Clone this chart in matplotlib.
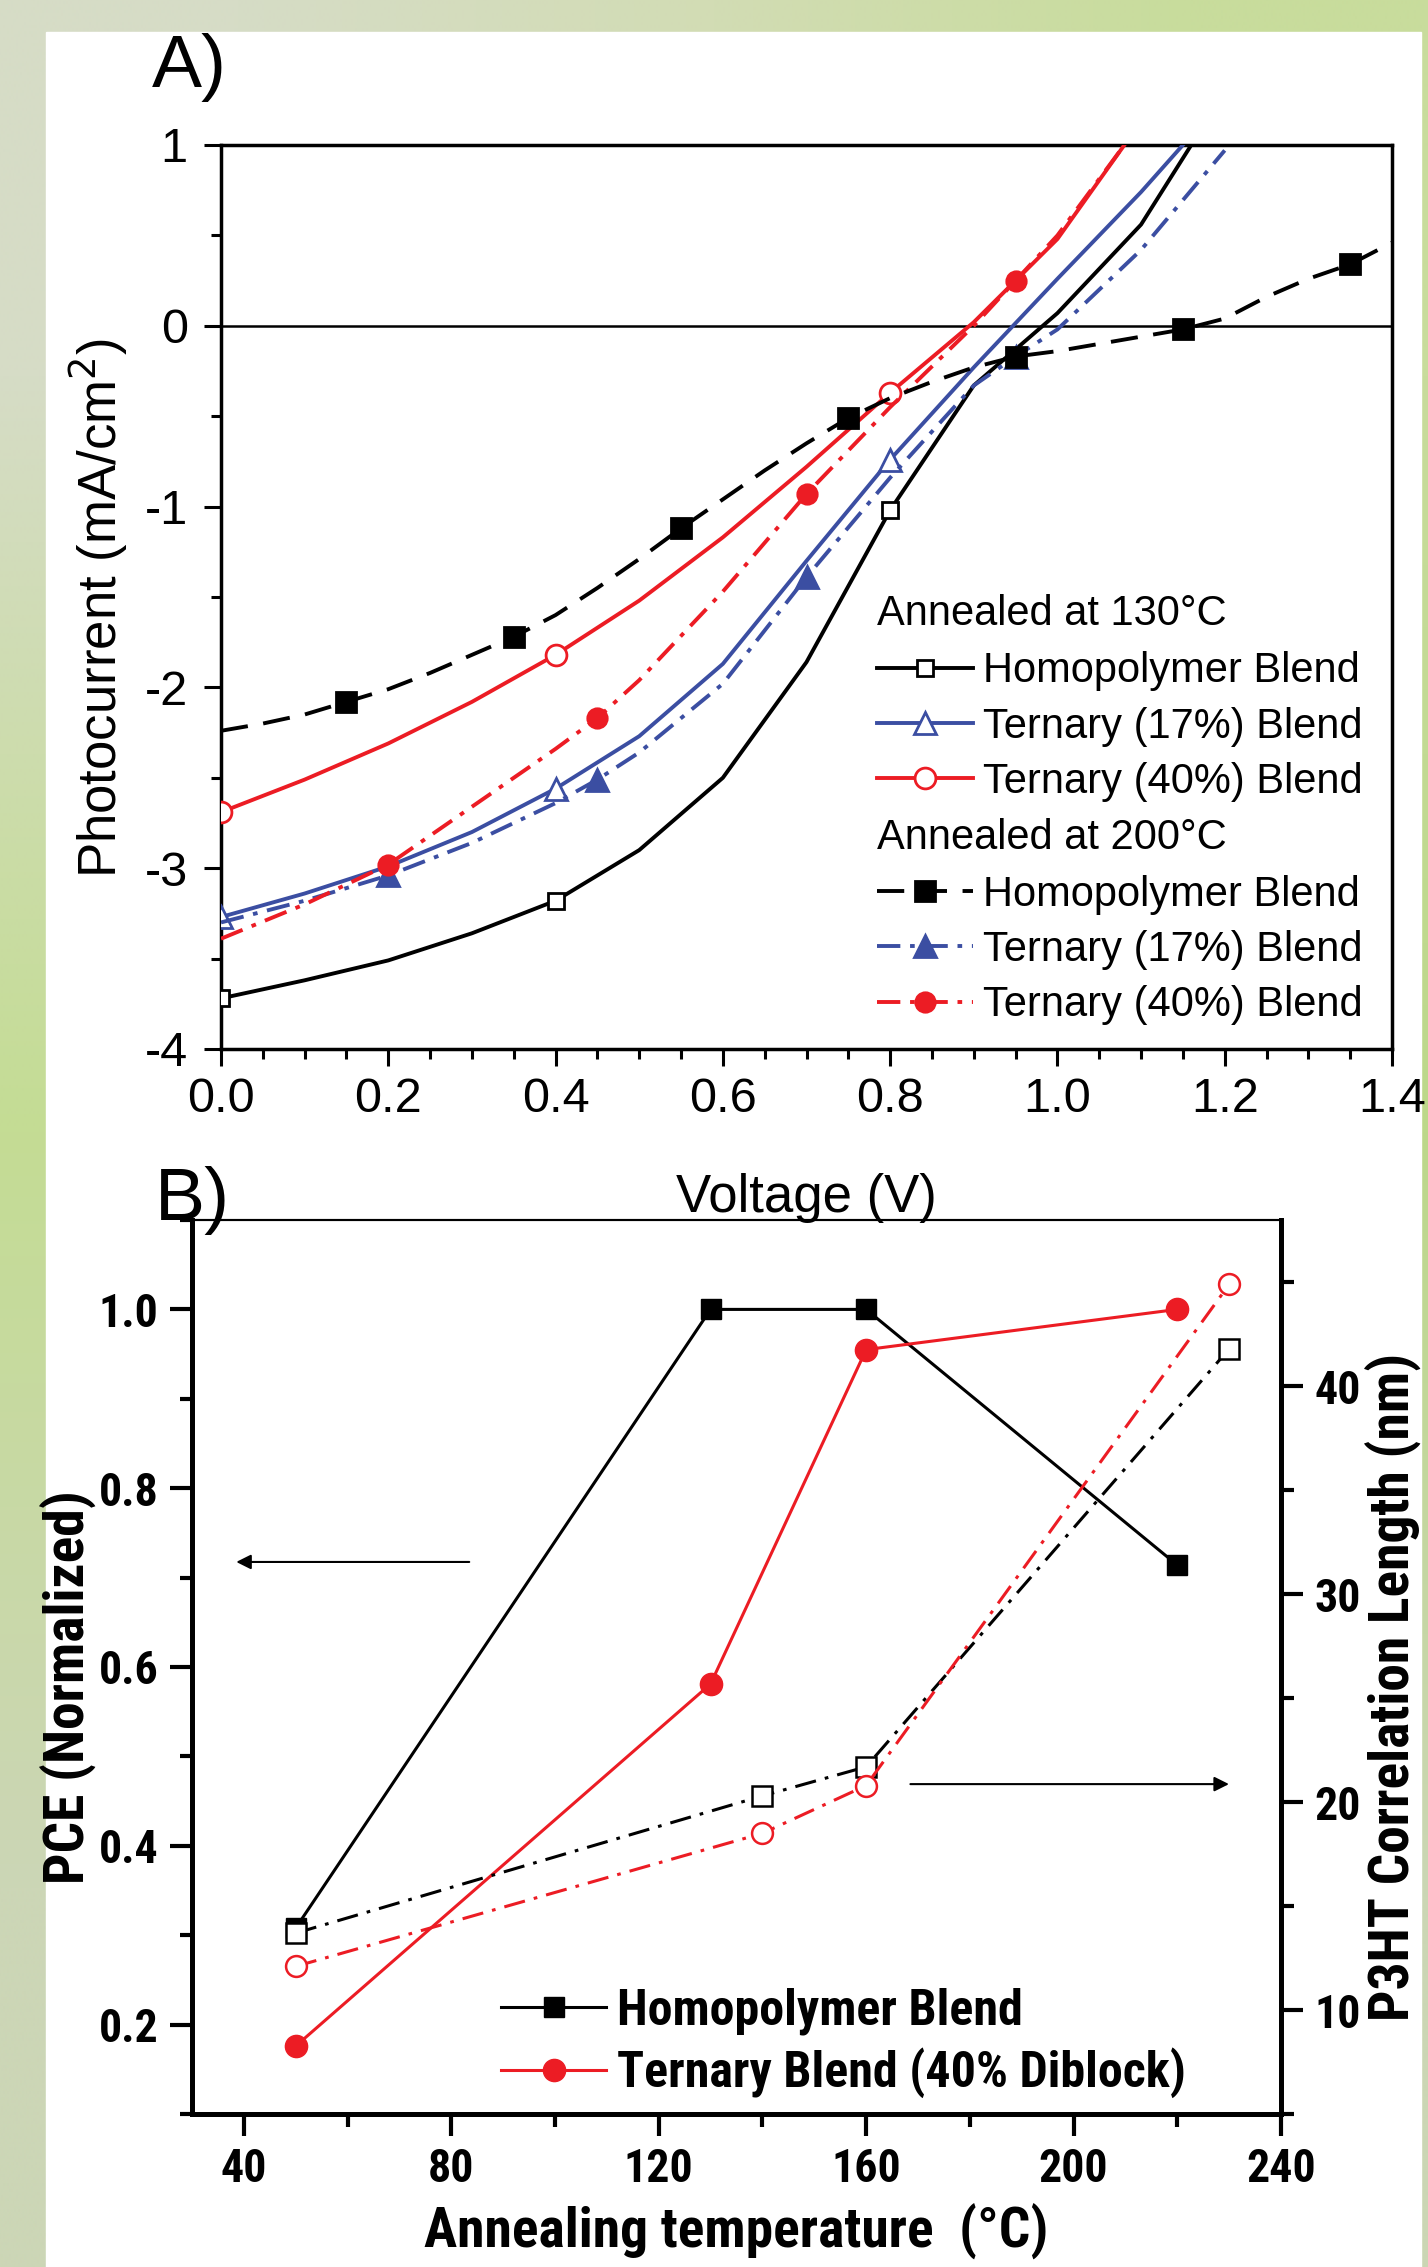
import numpy as np
import matplotlib.pyplot as plt
from matplotlib import font_manager as fm
from matplotlib.lines import Line2D
from matplotlib.patches import Rectangle
from matplotlib.ticker import MultipleLocator, FormatStrFormatter
from matplotlib.colors import to_rgb

# ---------------- Panel A: photocurrent vs voltage ----------------
# annealed at 130 C (solid lines, open markers)
v_homo130 = [0, 0.1, 0.2, 0.3, 0.4, 0.5, 0.6, 0.7, 0.8, 0.9, 1.0, 1.1, 1.16]
i_homo130 = [-3.72, -3.62, -3.51, -3.36, -3.18, -2.90, -2.50, -1.86, -1.02, -0.33, 0.07, 0.56, 1.0]
v_t17_130 = [0, 0.1, 0.2, 0.3, 0.4, 0.5, 0.6, 0.7, 0.8, 0.9, 1.0, 1.1, 1.15]
i_t17_130 = [-3.27, -3.14, -2.99, -2.80, -2.56, -2.27, -1.87, -1.30, -0.74, -0.23, 0.26, 0.74, 1.0]
v_t40_130 = [0, 0.1, 0.2, 0.3, 0.4, 0.5, 0.6, 0.7, 0.8, 0.9, 1.0, 1.08]
i_t40_130 = [-2.69, -2.51, -2.31, -2.08, -1.82, -1.52, -1.17, -0.78, -0.37, 0.02, 0.48, 1.0]

# annealed at 200 C (dashed / dash-dot lines, filled markers)
v_homo200 = [0, 0.05, 0.1, 0.15, 0.2, 0.25, 0.3, 0.35, 0.4, 0.45, 0.5, 0.55, 0.6, 0.65, 0.7,
             0.75, 0.8, 0.85, 0.9, 0.95, 1.0, 1.05, 1.1, 1.15, 1.2, 1.25, 1.3, 1.35, 1.4]
i_homo200 = [-2.24, -2.20, -2.15, -2.08, -2.01, -1.92, -1.82, -1.72, -1.60, -1.45, -1.29, -1.12,
             -0.96, -0.80, -0.65, -0.51, -0.40, -0.31, -0.23, -0.17, -0.14, -0.10, -0.06, -0.02,
             0.04, 0.16, 0.26, 0.34, 0.46]
v_t17_200 = [0, 0.1, 0.2, 0.3, 0.4, 0.45, 0.5, 0.6, 0.7, 0.8, 0.9, 0.95, 1.0, 1.1, 1.2]
i_t17_200 = [-3.30, -3.18, -3.04, -2.86, -2.64, -2.51, -2.36, -1.98, -1.39, -0.84, -0.33, -0.17,
             -0.02, 0.42, 0.97]
v_t40_200 = [0, 0.1, 0.2, 0.3, 0.4, 0.45, 0.5, 0.6, 0.7, 0.8, 0.9, 0.95, 1.0, 1.08]
i_t40_200 = [-3.39, -3.20, -2.98, -2.66, -2.34, -2.17, -1.96, -1.47, -0.93, -0.45, 0.0, 0.25,
             0.50, 1.0]

# ---------------- Panel B: PCE and correlation length ----------------
temp_pce = [50, 130, 160, 220]
pce_homo = [0.308, 1.0, 1.0, 0.714]
pce_tern = [0.176, 0.581, 0.955, 1.0]
temp_cl = [50, 140, 160, 230]
cl_homo = [13.7, 20.3, 21.7, 41.8]
cl_tern = [12.1, 18.5, 20.8, 44.9]

RED = '#ec1c24'
BLUE = '#3b4ea2'

plt.rcParams['font.family'] = 'Liberation Sans'
plt.rcParams['axes.unicode_minus'] = False

# panel B uses a narrow bold face; pick whatever condensed family is installed
names = {f.name for f in fm.fontManager.ttflist}
BFONT, bt, bl, blg = 'Liberation Sans', 31, 34, 32
for cand in ['Liberation Sans Narrow', 'Arial Narrow', 'Roboto Condensed', 'Open Sans Condensed']:
    if cand in names:
        BFONT, bt, bl, blg = cand, 33, 40, 36
        break

W, H = 1428, 2267
fig = plt.figure(figsize=(W / 100, H / 100), dpi=100)

# greenish page background with white sheet
bg = fig.add_axes([0, 0, 1, 1], zorder=-10)
bg.axis('off')
grid = [['#d6dcc6', '#d2dcb4', '#c8dc9c'],
        ['#c4dc94', '#c8dca0', '#bcd88a'],
        ['#ccd6b6', '#ccd6b6', '#cbd6b4']]
bg.imshow(np.array([[to_rgb(c) for c in row] for row in grid]),
          extent=(0, W, H, 0), aspect='auto', interpolation='bilinear')
bg.add_patch(Rectangle((46, 32), 1421 - 46, H - 32, color='white'))
bg.set_xlim(0, W)
bg.set_ylim(H, 0)

# ---------------- Panel A ----------------
axA = fig.add_axes([221 / W, 1 - 1049 / H, (1392 - 221) / W, (1049 - 145) / H])
axA.patch.set_alpha(0)
axA.axhline(0, color='black', lw=1.8, zorder=1)

lw = 2.8
dash = (0, (7, 4))
dashdot = (0, (6, 2.5, 1.2, 2.5))
styleA = [
    (v_homo130, i_homo130, 'black', '-', 's', 'white', 12, [0, 4, 8]),
    (v_t17_130, i_t17_130, BLUE, '-', '^', 'white', 16, [0, 4, 8]),
    (v_t40_130, i_t40_130, RED, '-', 'o', 'white', 15, [0, 4, 8]),
    (v_t17_200, i_t17_200, BLUE, dashdot, '^', BLUE, 16, [2, 5, 8, 11]),
    (v_t40_200, i_t40_200, RED, dashdot, 'o', RED, 14, [2, 5, 8, 11]),
    (v_homo200, i_homo200, 'black', dash, 's', 'black', 15, [3, 7, 11, 15, 19, 23, 27]),
]
for v, i, c, ls, m, fc, ms, mk in styleA:
    axA.plot(v, i, color=c, ls=ls, lw=lw, marker=m, mfc=fc, mec=c, ms=ms, mew=2,
             markevery=mk, zorder=3)

axA.set_xlim(0, 1.4)
axA.set_ylim(-4, 1)
axA.xaxis.set_major_locator(MultipleLocator(0.2))
axA.xaxis.set_minor_locator(MultipleLocator(0.05))
axA.xaxis.set_major_formatter(FormatStrFormatter('%.1f'))
axA.yaxis.set_major_locator(MultipleLocator(1))
axA.yaxis.set_minor_locator(MultipleLocator(0.5))
axA.tick_params(which='both', direction='out', top=False, right=False, width=2.2)
axA.tick_params(which='major', length=12, labelsize=35)
axA.tick_params(which='minor', length=7)
axA.tick_params(axis='y', pad=12)
axA.tick_params(axis='x', pad=8)
for s in axA.spines.values():
    s.set_linewidth(2.5)

axA.set_xlabel('Voltage (V)', fontsize=38, va='top')
axA.xaxis.set_label_coords(0.5, -0.137)
axA.set_ylabel('Photocurrent (mA/cm$^2$)', fontsize=38)
axA.yaxis.set_label_coords(-0.078, 0.488)

legA = dict(fontsize=30, frameon=False, loc='upper left', handlelength=2.3,
            handletextpad=0.25, labelspacing=0.37, borderpad=0, borderaxespad=0)
axA.text(0.56, 0.481, 'Annealed at 130°C', transform=axA.transAxes, fontsize=30,
         va='center', ha='left')
h130 = [Line2D([], [], color=c, ls=ls, lw=lw, marker=m, mfc=fc, mec=c, ms=ms, mew=2)
        for v, i, c, ls, m, fc, ms, mk in styleA[:3]]
lab = ['Homopolymer Blend', 'Ternary (17%) Blend', 'Ternary (40%) Blend']
l1 = axA.legend(h130, lab, bbox_to_anchor=(0.56, 0.440), **legA)
axA.add_artist(l1)
axA.text(0.56, 0.233, 'Annealed at 200°C', transform=axA.transAxes, fontsize=30,
         va='center', ha='left')
h200 = [Line2D([], [], color=c, ls=ls, lw=lw, marker=m, mfc=fc, mec=c, ms=ms, mew=2)
        for v, i, c, ls, m, fc, ms, mk in [styleA[5], styleA[3], styleA[4]]]
axA.legend(h200, lab, bbox_to_anchor=(0.56, 0.193), **legA)

fig.text(152 / W, 1 - 33 / H, 'A)', fontsize=54, va='top', ha='left')

# ---------------- Panel B ----------------
axB = fig.add_axes([192 / W, 1 - 2114 / H, (1281 - 192) / W, (2114 - 1220) / H])
axB.patch.set_alpha(0)
axB2 = axB.twinx()

lwB = 2.2
ddB = (0, (7, 3, 1.2, 3))
axB.plot(temp_pce, pce_homo, color='black', lw=lwB, marker='s', ms=15, mfc='black',
         mec='black', zorder=4)
axB.plot(temp_pce, pce_tern, color=RED, lw=lwB, marker='o', ms=16, mfc=RED, mec=RED,
         zorder=4)
axB2.plot(temp_cl, cl_homo, color='black', lw=lwB, ls=ddB, marker='s', ms=14, mfc='white',
          mec='black', mew=1.8)
axB2.plot(temp_cl, cl_tern, color=RED, lw=lwB, ls=ddB, marker='o', ms=15, mfc='white',
          mec=RED, mew=1.8)

axB.set_xlim(30, 240)
axB.set_ylim(0.1, 1.1)
axB2.set_ylim(5, 48)
axB.xaxis.set_major_locator(MultipleLocator(40))
axB.xaxis.set_minor_locator(MultipleLocator(20))
axB.yaxis.set_major_locator(MultipleLocator(0.2))
axB.yaxis.set_minor_locator(MultipleLocator(0.1))
axB.yaxis.set_major_formatter(FormatStrFormatter('%.1f'))
axB2.yaxis.set_major_locator(MultipleLocator(10))
axB2.yaxis.set_minor_locator(MultipleLocator(5))

for a in (axB, axB2):
    a.tick_params(which='both', direction='out', width=3)
    a.tick_params(which='major', length=16, labelsize=bt, pad=8)
    a.tick_params(which='minor', length=9)
    for lbl in a.get_xticklabels() + a.get_yticklabels():
        lbl.set_fontfamily(BFONT)
        lbl.set_fontweight('bold')
axB.tick_params(top=False, right=False)
axB2.tick_params(top=False, left=False)
for a in (axB, axB2):
    for k in ('left', 'bottom', 'right'):
        a.spines[k].set_linewidth(3.5)
    a.spines['top'].set_linewidth(1.5)

bfont = dict(fontsize=bl, fontweight='bold', family=BFONT)
axB.set_xlabel('Annealing temperature  (°C)', va='top', **bfont)
axB.xaxis.set_label_coords(0.5, -0.100)
axB.set_ylabel('PCE (Normalized)', **bfont)
axB.yaxis.set_label_coords(-0.087, 0.478)
axB2.set_ylabel('P3HT Correlation Length (nm)', **bfont)
axB2.yaxis.set_label_coords(1.078, 0.478)

# arrows pointing to the relevant axes
arrow_y_left, arrow_left_from, arrow_left_to = 0.7175, 84, 38
arrow_y_right, arrow_right_from, arrow_right_to = 0.469, 168, 230.5
ap = dict(arrowstyle='-|>', color='black', lw=1.5, mutation_scale=22)
axB.annotate('', xy=(arrow_left_to, arrow_y_left), xytext=(arrow_left_from, arrow_y_left),
             arrowprops=ap)
axB.annotate('', xy=(arrow_right_to, arrow_y_right), xytext=(arrow_right_from, arrow_y_right),
             arrowprops=ap)

hB = [Line2D([], [], color='black', lw=lwB, marker='s', ms=15, mfc='black'),
      Line2D([], [], color=RED, lw=lwB, marker='o', ms=16, mfc=RED, mec=RED)]
legB = axB.legend(hB, ['Homopolymer Blend', 'Ternary Blend (40% Diblock)'],
                  loc='upper left', bbox_to_anchor=(0.284, 0.141), frameon=False,
                  handlelength=2.1, handletextpad=0.22, labelspacing=0.24, borderpad=0,
                  borderaxespad=0, prop=dict(size=blg, weight='bold', family=BFONT))

fig.text(155 / W, 1 - 1166 / H, 'B)', fontsize=54, va='top', ha='left')

fig.savefig('out.png', dpi=100)
